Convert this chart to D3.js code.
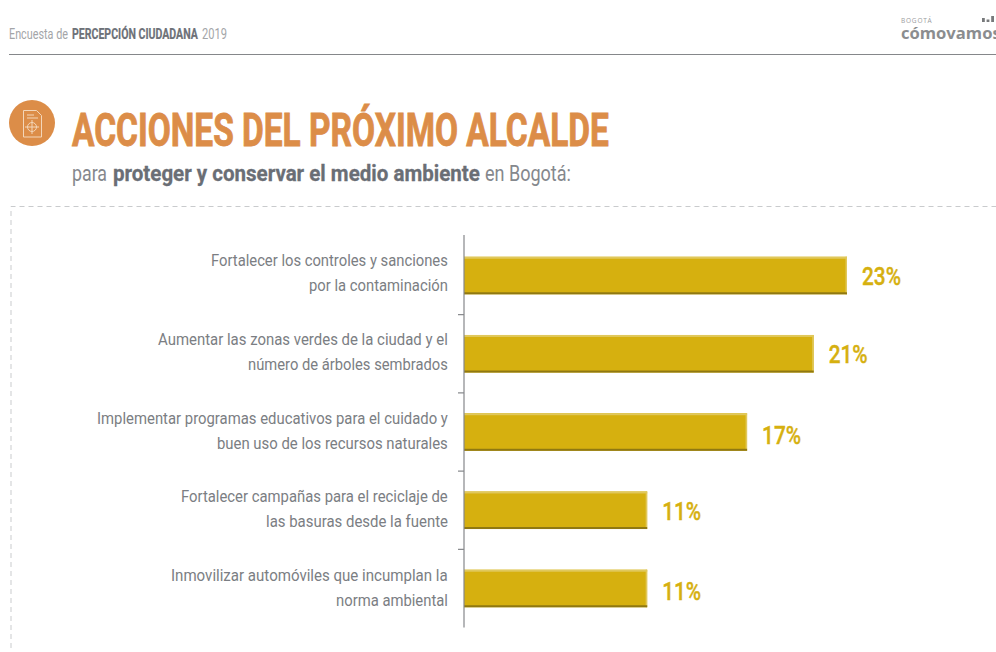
<!DOCTYPE html>
<html><head><meta charset="utf-8">
<script src="https://cdn.jsdelivr.net/npm/d3@7/dist/d3.min.js"></script>
<style>html,body{margin:0;padding:0;background:#fff}svg{display:block}text{font-family:"Roboto",sans-serif}</style>
</head><body><svg id="c" width="996" height="652"></svg>
<script>
const categories = ["c1","c2","c3","c4","c5"];
const labelLine1 = ["Fortalecer los controles y sanciones","Aumentar las zonas verdes de la ciudad y el","Implementar programas educativos para el cuidado y","Fortalecer campañas para el reciclaje de","Inmovilizar automóviles que incumplan la"];
const labelLine2 = ["por la contaminación","número de árboles sembrados","buen uso de los recursos naturales","las basuras desde la fuente","norma ambiental"];
const values = [23,21,17,11,11];
const svg = d3.select("#c");
const x = d3.scaleLinear().domain([0,23]).range([464,847]);
const y = d3.scaleBand().domain(categories).range([236.4,627.6]).paddingInner(0.52).paddingOuter(0.26);

// draws a text squeezed horizontally to the given width (left edge at px)
function fitText(px,py,w,size,weight,fill,str,stroke){
  const t=svg.append("text").attr("font-size",size).attr("font-weight",weight).attr("fill",fill).text(str);
  const natural=t.node().getComputedTextLength();
  t.attr("transform",`translate(${px},${py}) scale(${w/natural},1)`);
  if(stroke) t.attr("stroke",fill).attr("stroke-width",stroke);
  return t;
}
// header
fitText(9,39,59,14,"normal","#a3a5a8","Encuesta de");
fitText(72,39,126,14,"bold","#6d7178","PERCEPCIÓN CIUDADANA",0.2);
fitText(202,39,25,14,"normal","#a3a5a8","2019");
svg.append("line").attr("x1",9).attr("x2",996).attr("y1",54.5).attr("y2",54.5).attr("stroke","#85878a").attr("stroke-width",1.2);
// logo
svg.append("text").attr("x",901).attr("y",23).attr("font-size",6.5).attr("fill","#9a9c9e").attr("letter-spacing",0.8).style("font-family","Open Sans").text("BOGOTÁ");
svg.append("text").attr("x",901).attr("y",39).attr("font-size",16.6).attr("font-weight","bold").attr("fill","#8b8d8f").style("font-family","Open Sans").text("cómovamos");
svg.selectAll("rect.lg").data([4,2.5,6]).join("rect").attr("class","lg").attr("x",(d,i)=>982+i*4.6).attr("y",d=>22-d).attr("width",2.8).attr("height",d=>d).attr("fill","#77797b");
// icon
svg.append("circle").attr("cx",32).attr("cy",123).attr("r",23).attr("fill","#dc8d48");
const ic=svg.append("g").attr("fill","none").attr("stroke","#f3d6b9").attr("stroke-width",1);
ic.append("path").attr("d","M23.5 110.5h13l5 5v21.5h-18z");
ic.append("path").attr("d","M27 115h7M27 118h11");
ic.append("circle").attr("cx",32).attr("cy",127).attr("r",4.5);
ic.append("path").attr("d","M32 120v14M25 127h14");
// titles
fitText(72,145.5,537,46,"bold","#dc8d48","ACCIONES DEL PRÓXIMO ALCALDE",0.9);
fitText(72,180.5,35,22.5,"normal","#85888d","para");
fitText(113,180.5,367,22.5,"bold","#6a6e75","proteger y conservar el medio ambiente",0.3);
fitText(485,180.5,86,22.5,"normal","#85888d","en Bogotá:");
// dashed frame
svg.append("path").attr("d","M11 648V206.5H996").attr("fill","none").attr("stroke","#c9cbcd").attr("stroke-dasharray","5 4").attr("stroke-width",1);
// bars
const g = svg.append("g");
g.selectAll("rect.bar").data(values).join("rect").attr("class","bar")
 .attr("x",x(0)).attr("y",(d,i)=>y(categories[i])).attr("width",d=>x(d)-x(0)).attr("height",y.bandwidth()).attr("fill","#d6b00f");
g.selectAll("rect.top").data(values).join("rect").attr("class","top")
 .attr("x",x(0)).attr("y",(d,i)=>y(categories[i])).attr("width",d=>x(d)-x(0)).attr("height",2).attr("fill","#e0c85c");
g.selectAll("rect.right").data(values).join("rect").attr("class","right")
 .attr("x",d=>x(d)-1.5).attr("y",(d,i)=>y(categories[i])).attr("width",1.5).attr("height",y.bandwidth()).attr("fill","#e0c85c");
g.selectAll("rect.bot").data(values).join("rect").attr("class","bot")
 .attr("x",x(0)).attr("y",(d,i)=>y(categories[i])+y.bandwidth()-2).attr("width",d=>x(d)-x(0)).attr("height",2).attr("fill","#8f7812");
// axis
const ax = svg.append("g").attr("stroke","#85878a").attr("stroke-width",1.2);
ax.append("line").attr("x1",x(0)).attr("x2",x(0)).attr("y1",235).attr("y2",627.6);
const ticks = categories.slice(1).map(c=>y(c)-y.step()*y.paddingInner()/2);
ax.selectAll("line.t").data(ticks).join("line").attr("class","t").attr("x1",x(0)-6).attr("x2",x(0)).attr("y1",d=>d).attr("y2",d=>d);
// labels
const w1=[237,290,351,267,277], w2=[139,200,231,182,112];
const labelNudge=[0,1,2,2,3], valueNudge=[0,0,2,0,2.5];
const cy=i=>y(categories[i])+y.bandwidth()/2;
labelLine1.forEach((s,i)=>fitText(448-w1[i],cy(i)-10+labelNudge[i],w1[i],17,"normal","#7b7e83",s));
labelLine2.forEach((s,i)=>fitText(448-w2[i],cy(i)+15+labelNudge[i],w2[i],17,"normal","#7b7e83",s));
// values
values.forEach((d,i)=>fitText(x(d)+15,cy(i)+9.5+valueNudge[i],39,25.7,"500","#d6b00f",d+"%",0.4));
</script></body></html>
